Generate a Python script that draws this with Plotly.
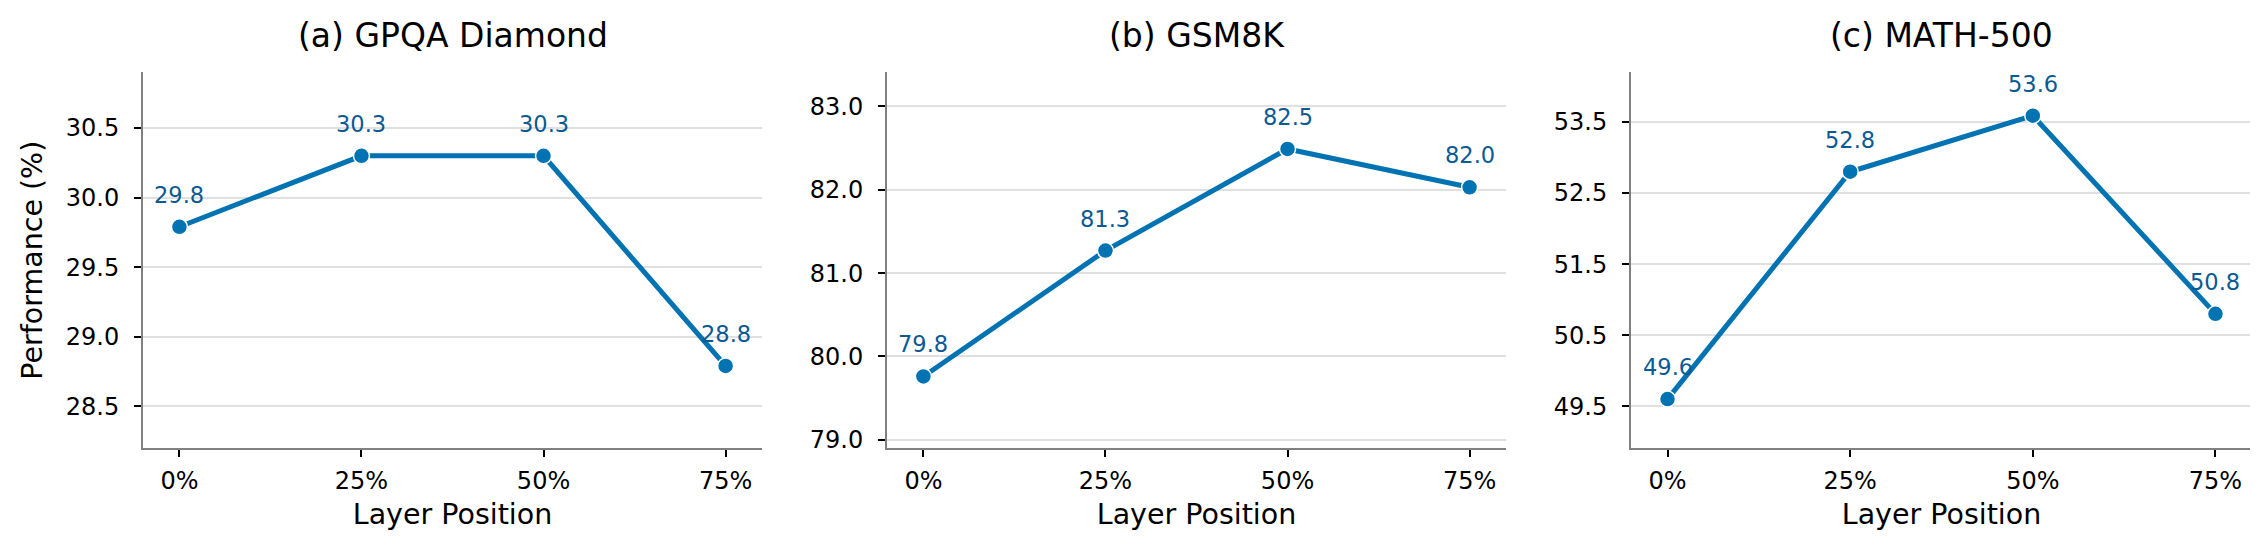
import plotly.graph_objects as go

# layer positions shared by all three panels
layers = ['0%', '25%', '50%', '75%']

titles = ['(a) GPQA Diamond', '(b) GSM8K', '(c) MATH-500']
gpqa = [29.79, 30.30, 30.30, 28.79]
gsm8k = [79.76, 81.27, 82.49, 82.03]
math500 = [49.60, 52.80, 53.59, 50.80]

# y ticks per panel
gpqa_ticks = [28.5, 29.0, 29.5, 30.0, 30.5]
gsm8k_ticks = [79.0, 80.0, 81.0, 82.0, 83.0]
math500_ticks = [49.5, 50.5, 51.5, 52.5, 53.5]

series = [gpqa, gsm8k, math500]
ticks = [gpqa_ticks, gsm8k_ticks, math500_ticks]
yranges = [[28.2, 30.9], [78.9, 83.41], [48.91, 54.2]]

W, H = 2258, 546
xdomains = [[135 / W, 754 / W], [879 / W, 1498 / W], [1623 / W, 2244 / W]]
ydomain = [(H - 445) / H, (H - 65) / H]

line_col = '#0173B2'
label_col = '#0b5a94'
font = 'DejaVu Sans'

fig = go.Figure()
layout = {}
annotations = []

for i in range(3):
    n = '' if i == 0 else str(i + 1)
    fig.add_trace(go.Scatter(
        x=layers, y=series[i], mode='lines+markers',
        xaxis='x' + n, yaxis='y' + n,
        line=dict(color=line_col, width=5),
        marker=dict(color=line_col, size=16, line=dict(color='white', width=1.5)),
        showlegend=False, hoverinfo='skip'))

    layout['xaxis' + n] = dict(
        domain=xdomains[i], anchor='y' + n, type='category',
        range=[-0.2, 3.2], showgrid=False, zeroline=False,
        showline=True, linecolor='#808080', linewidth=2,
        ticks='outside', ticklen=7, tickwidth=2, tickcolor='black',
        ticklabelstandoff=3,
        tickfont=dict(family=font, size=24, color='black'),
        title=dict(text='Layer Position', standoff=10,
                   font=dict(family=font, size=28.5, color='black')))
    layout['yaxis' + n] = dict(
        domain=ydomain, anchor='x' + n, range=yranges[i],
        tickvals=ticks[i], tickformat='.1f',
        showgrid=True, gridcolor='#e0e0e0', gridwidth=1.5, zeroline=False,
        showline=True, linecolor='#808080', linewidth=2,
        ticks='outside', ticklen=7, tickwidth=2, tickcolor='black',
        ticklabelstandoff=10,
        tickfont=dict(family=font, size=24, color='black'))
    if i == 0:
        layout['yaxis']['title'] = dict(
            text='Performance (%)', standoff=15,
            font=dict(family=font, size=28.5, color='black'))

    annotations.append(dict(
        text=titles[i], xref='paper', yref='paper',
        x=sum(xdomains[i]) / 2, y=(H - 28) / H,
        xanchor='center', yanchor='middle', showarrow=False,
        font=dict(family=font, size=33, color='black')))

    for cat, val in zip(layers, series[i]):
        annotations.append(dict(
            text=f'{val:.1f}', x=cat, y=val,
            xref='x' + n, yref='y' + n,
            xanchor='center', yanchor='middle', yshift=32,
            showarrow=False,
            font=dict(family=font, size=22.5, color=label_col)))

fig.update_layout(
    **layout,
    annotations=annotations,
    width=W, height=H,
    margin=dict(l=0, r=0, t=0, b=0),
    plot_bgcolor='white', paper_bgcolor='white',
)

fig.write_html('out.html')
